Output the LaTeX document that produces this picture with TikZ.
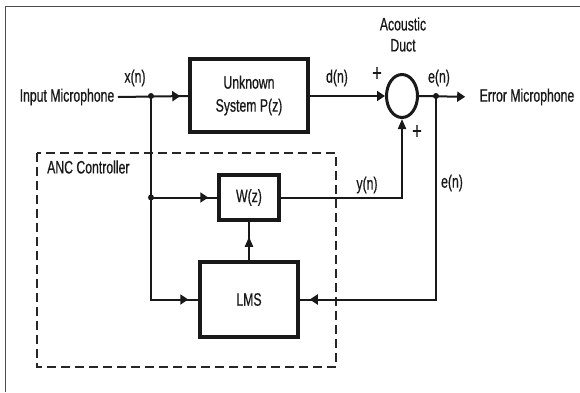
\documentclass[tikz,border=0pt]{standalone}
\usepackage{fontspec}
\setmainfont[FakeStretch=0.68, FakeBold=0.6]{Liberation Sans}
\usetikzlibrary{arrows.meta,shapes.geometric,decorations.markings}
\begin{document}
\begin{tikzpicture}[x=1pt,y=-1pt,
  every node/.style={font=\fontsize{18}{23}\selectfont, text=black!90},
  blk/.style={draw=black!90, line width=3.5pt, inner sep=0pt, align=center},
  conn/.style={draw=black!90, line width=2pt},
  plus/.style={font=\fontsize{24}{24}\selectfont},
  harrow/.style={-{Triangle[length=8pt,width=10pt]}},
  varrow/.style={-{Triangle[length=10pt,width=8pt]}},
  hmark/.style={postaction={decorate}, decoration={markings, mark=at position #1 with {\arrow{Triangle[length=8pt,width=10pt]}}}},
  vmark/.style={postaction={decorate}, decoration={markings, mark=at position #1 with {\arrow{Triangle[length=10pt,width=8pt]}}}},
  dot/.style={circle, fill=black!90, inner sep=0pt, minimum size=6pt}
]
\useasboundingbox (0,0) rectangle (580,392);
% outer frame
\draw[black!70, line width=1pt] (5.5,392) -- (5.5,6) -- (580,6);

% dashed controller box
\draw[black!85, line width=2pt, dash pattern=on 9pt off 5pt] (37,153) rectangle (336,367);
\node[anchor=west, inner sep=0pt] (anc) at (47,167) {ANC Controller};

% blocks
\node[blk, minimum width=118pt, minimum height=73pt] (P) at (249,95.5) {Unknown\\System P(z)};
\node[blk, minimum width=60pt, minimum height=45pt] (W) at (249,197.5) {W(z)};
\node[blk, minimum width=98pt, minimum height=75pt] (L) at (249,299.5) {LMS};
\node[draw=black!90, line width=3pt, ellipse, minimum width=31pt, minimum height=43pt, inner sep=0pt] (S) at (402,96) {};

% texts
\node[anchor=center] (inmic) at (67,97) {Input Microphone};
\node[anchor=center] (errmic) at (527,97) {Error Microphone};
\node (duct) at (403,34.5) [align=center, font=\fontsize{18}{21}\selectfont] {Acoustic\\Duct};
\node (xn) at (135,78) {x(n)};
\node (dn) at (337,78) {d(n)};
\node (en1) at (439,78) {e(n)};
\node (en2) at (452,183) {e(n)};
\node (yn) at (367,185) {y(n)};
\node[plus] (p1) at (377,74) {+};
\node[plus] (p2) at (417,132) {+};

% junctions
\coordinate (jx) at (151,96);
\coordinate (jw) at (151,197.5);
\coordinate (je) at (436,96);
\node[dot] (djx) at (jx) {};
\node[dot] (djw) at (jw) {};
\node[dot] (dje) at (je) {};

% connectors
\draw[conn, hmark=-8pt] (inmic.east) -- (P.west |- jx);
\draw[conn] (jx) |- (L.west);
\path[conn, hmark=-10pt] (jx |- L.west) -- (L.west);
\draw[conn, hmark=-9pt] (jw) -- (W.west);
\draw[conn, vmark=-15pt] (L.north) -- (W.south);
\draw[conn, harrow] (P.east |- S.west) -- (S.west);
\draw[conn, varrow] (W.east) -| (S.south);
\draw[conn, harrow, shorten >=11pt] (S.east) -- (errmic.west);
\draw[conn] (je) |- (L.east);
\path[conn, hmark=-10pt] (je |- L.east) -- (L.east);
\end{tikzpicture}
\end{document}
